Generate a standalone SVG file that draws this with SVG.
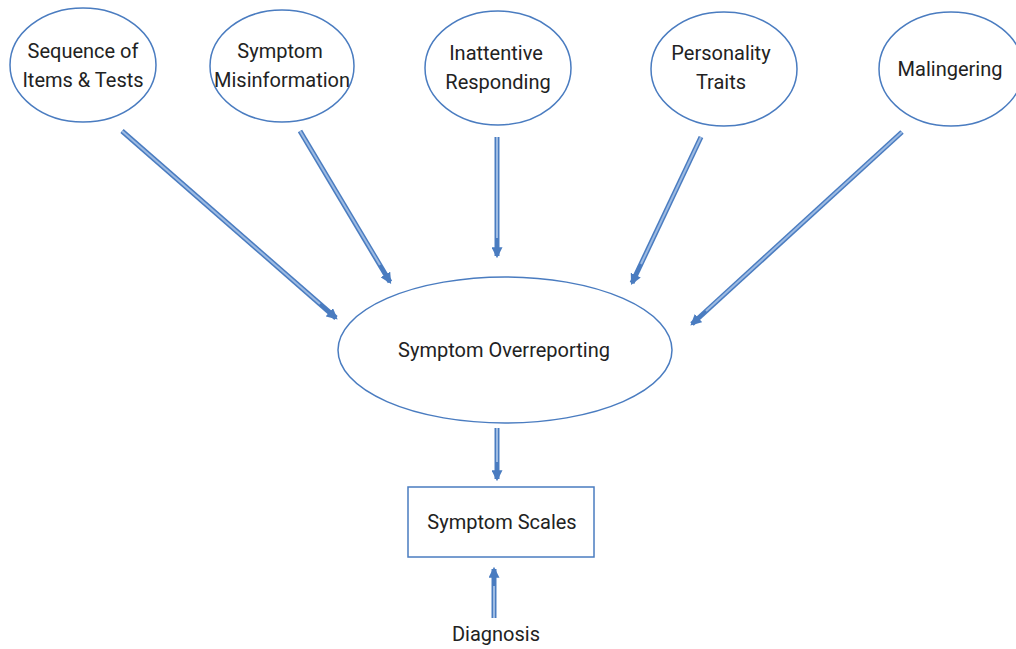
<svg xmlns="http://www.w3.org/2000/svg" width="1016" height="649" viewBox="0 0 1016 649">
<style>
.n{fill:#fff;stroke:#4a7cc0;stroke-width:1.5}
.t{font-family:Roboto,"Liberation Sans",sans-serif;font-size:20px;fill:#222;text-anchor:middle}
.a1{stroke:#4a7cc0;stroke-width:5;fill:none}
.a2{stroke:#9dbbe3;stroke-width:2;fill:none}
</style>
<defs>
<marker id="ah" viewBox="0 0 10 10" refX="8" refY="5" markerWidth="2.2" markerHeight="2.2" orient="auto" markerUnits="strokeWidth">
<path d="M0,0 L10,5 L0,10 z" fill="#4a7cc0"/>
</marker>
</defs>
<rect width="1016" height="649" fill="#fff"/>
<g id="connectors">
<line class="a1" x1="122" y1="131" x2="336" y2="318" marker-end="url(#ah)"/><line class="a2" x1="122" y1="131" x2="320" y2="304"/>
<line class="a1" x1="300" y1="131" x2="390" y2="282" marker-end="url(#ah)"/><line class="a2" x1="300" y1="131" x2="380" y2="265"/>
<line class="a1" x1="497" y1="137" x2="497" y2="256" marker-end="url(#ah)"/><line class="a2" x1="497" y1="137" x2="497" y2="238"/>
<line class="a1" x1="701" y1="137" x2="632" y2="283" marker-end="url(#ah)"/><line class="a2" x1="701" y1="137" x2="641" y2="264"/>
<line class="a1" x1="902" y1="132" x2="692" y2="324" marker-end="url(#ah)"/><line class="a2" x1="902" y1="132" x2="706" y2="311"/>
<line class="a1" x1="497" y1="428" x2="497" y2="479" marker-end="url(#ah)"/><line class="a2" x1="497" y1="428" x2="497" y2="462"/>
<line class="a1" x1="494" y1="618" x2="494" y2="569" marker-end="url(#ah)"/><line class="a2" x1="494" y1="618" x2="494" y2="586"/>
</g>
<g id="seq"><ellipse class="n" cx="83" cy="65" rx="73" ry="57"/><text class="t" x="83" y="58">Sequence of</text><text class="t" x="83" y="87">Items &amp; Tests</text></g>
<g id="mis"><ellipse class="n" cx="282" cy="66" rx="72" ry="56"/><text class="t" x="280" y="58">Symptom</text><text class="t" x="282" y="87">Misinformation</text></g>
<g id="ina"><ellipse class="n" cx="498" cy="68" rx="73" ry="57"/><text class="t" x="496" y="60">Inattentive</text><text class="t" x="498" y="89">Responding</text></g>
<g id="per"><ellipse class="n" cx="724" cy="69" rx="73" ry="57"/><text class="t" x="721" y="60">Personality</text><text class="t" x="721" y="89">Traits</text></g>
<g id="mal"><ellipse class="n" cx="951" cy="69" rx="72" ry="57"/><text class="t" x="950" y="76">Malingering</text></g>
<g id="over"><ellipse class="n" cx="505" cy="350" rx="167" ry="73"/><text class="t" x="504" y="357">Symptom Overreporting</text></g>
<g id="scales"><rect class="n" x="408" y="487" width="186" height="70"/><text class="t" x="502" y="529">Symptom Scales</text></g>
<g id="diag"><text class="t" x="496" y="641">Diagnosis</text></g>
</svg>
